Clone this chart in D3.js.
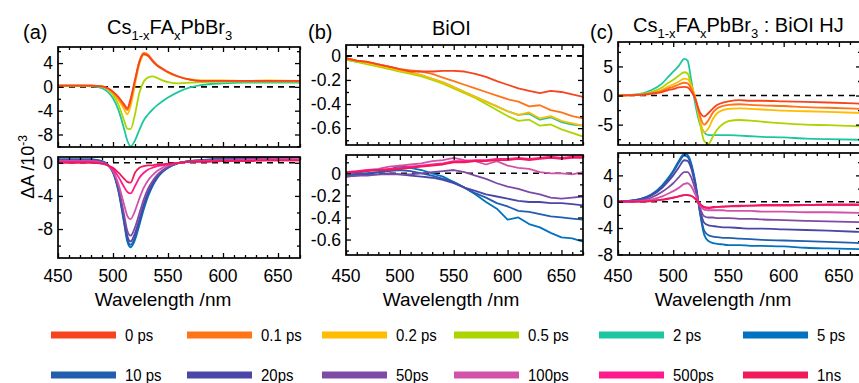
<!DOCTYPE html>
<html>
<head>
<meta charset="utf-8">
<script src="https://cdn.jsdelivr.net/npm/d3@7"></script>
<style>
  html, body { margin: 0; padding: 0; background: #fff; }
  svg { display: block; font-family: "Liberation Sans", Arial, sans-serif; }
</style>
</head>
<body>
<svg id="chart" width="859" height="383"></svg>
<script>
// wavelength grids (nm)
const wlAC = [450, 470, 480, 490, 495, 500, 505, 510, 513, 516, 520, 524, 528, 532, 536, 540, 545, 550, 560, 570, 580, 600, 620, 640, 670];
const wlB = [450, 460, 470, 480, 490, 500, 510, 520, 530, 540, 550, 560, 570, 580, 590, 600, 610, 620, 630, 640, 650, 660, 670];

const xTicks = [450, 500, 550, 600, 650];
const delayLabels = ["0 ps", "0.1 ps", "0.2 ps", "0.5 ps", "2 ps", "5 ps", "10 ps", "20ps", "50ps", "100ps", "500ps", "1ns"];
const delayColors = ["#f8431f", "#ff7417", "#ffbc00", "#acd500", "#1cc79f", "#0072bf", "#215fae", "#4a47a6", "#7d4aa6", "#d152a8", "#ff1b8c", "#ef1a59"];

// (a) Cs1-xFAxPbBr3, early delays (1e-3)
const pero_0ps  = [0.2, 0.2, 0.2, 0.1, -0.2, -0.8, -1.7, -2.9, -3.6, -2.0, 1.2, 4.2, 5.5, 5.2, 4.3, 3.6, 3.0, 2.5, 1.7, 1.2, 1.0, 1.0, 1.0, 1.0, 1.0];
const pero_01ps = [0.2, 0.2, 0.2, 0.1, -0.2, -0.9, -1.9, -3.2, -3.9, -2.4, 1.0, 4.3, 5.7, 5.4, 4.5, 3.7, 3.1, 2.5, 1.7, 1.2, 1.0, 1.0, 1.0, 1.0, 1.0];
const pero_02ps = [0.2, 0.2, 0.2, 0.1, -0.3, -1.0, -2.2, -3.7, -4.6, -3.2, 0.4, 3.8, 5.4, 5.2, 4.4, 3.6, 3.0, 2.4, 1.7, 1.3, 1.1, 1.1, 1.0, 1.1, 1.0];
const pero_05ps = [0.2, 0.2, 0.2, 0.0, -0.4, -1.3, -3.0, -5.6, -7.0, -7.1, -4.6, -1.0, 0.9, 1.6, 1.75, 1.5, 1.1, 0.8, 0.6, 0.7, 0.8, 0.9, 0.9, 0.9, 0.9];
const pero_2ps  = [0.2, 0.2, 0.1, -0.2, -0.8, -1.9, -3.9, -7.0, -9.0, -10.0, -9.0, -7.2, -5.6, -4.6, -3.8, -3.1, -2.4, -1.8, -0.8, -0.1, 0.3, 0.6, 0.7, 0.7, 0.7];
// (a) late delays
const pero_5ps   = [0.4, 0.4, 0.4, 0.2, -0.2, -1.2, -3.5, -7.2, -9.5, -10.2, -9.3, -7.5, -5.6, -4.0, -2.8, -1.9, -1.1, -0.6, 0.0, 0.2, 0.3, 0.5, 0.6, 0.7, 0.8];
const pero_10ps  = [0.4, 0.4, 0.4, 0.2, -0.2, -1.1, -3.3, -7.0, -9.2, -9.9, -9.0, -7.2, -5.3, -3.8, -2.7, -1.8, -1.1, -0.6, 0.0, 0.2, 0.3, 0.5, 0.6, 0.7, 0.8];
const pero_20ps  = [0.3, 0.3, 0.3, 0.1, -0.2, -1.1, -3.2, -6.7, -8.8, -9.5, -8.5, -6.8, -5.0, -3.5, -2.5, -1.7, -1.0, -0.5, 0.0, 0.2, 0.3, 0.4, 0.5, 0.6, 0.7];
const pero_50ps  = [0.3, 0.3, 0.3, 0.1, -0.2, -1.0, -3.0, -6.2, -8.2, -8.8, -7.8, -6.1, -4.4, -3.1, -2.2, -1.5, -0.9, -0.5, 0.0, 0.2, 0.3, 0.4, 0.5, 0.6, 0.6];
const pero_100ps = [0.2, 0.2, 0.2, 0.0, -0.3, -1.0, -2.6, -5.0, -6.4, -6.8, -5.8, -4.3, -3.0, -2.1, -1.5, -1.0, -0.6, -0.3, 0.0, 0.1, 0.2, 0.3, 0.3, 0.4, 0.4];
const pero_500ps = [0.1, 0.1, 0.1, -0.1, -0.3, -0.8, -1.7, -2.9, -3.5, -3.7, -2.8, -1.8, -1.2, -0.8, -0.6, -0.4, -0.3, -0.2, 0.0, 0.1, 0.2, 0.2, 0.3, 0.3, 0.3];
const pero_1ns   = [0.0, 0.0, 0.0, -0.1, -0.3, -0.6, -1.2, -1.9, -2.3, -2.4, -1.2, -0.6, -0.4, -0.3, -0.3, -0.2, -0.2, -0.1, 0.0, 0.1, 0.1, 0.2, 0.2, 0.3, 0.3];

// (b) BiOI, early delays
const bioi_0ps  = [-0.02, -0.04, -0.05, -0.07, -0.09, -0.11, -0.13, -0.13, -0.13, -0.125, -0.125, -0.13, -0.15, -0.175, -0.21, -0.24, -0.27, -0.29, -0.31, -0.29, -0.30, -0.32, -0.34];
const bioi_01ps = [-0.02, -0.04, -0.05, -0.07, -0.09, -0.11, -0.12, -0.13, -0.15, -0.18, -0.21, -0.24, -0.27, -0.30, -0.33, -0.36, -0.38, -0.42, -0.41, -0.45, -0.47, -0.50, -0.52];
const bioi_02ps = [-0.02, -0.04, -0.06, -0.08, -0.10, -0.12, -0.14, -0.16, -0.19, -0.22, -0.26, -0.30, -0.34, -0.38, -0.42, -0.46, -0.49, -0.47, -0.52, -0.50, -0.54, -0.56, -0.58];
const bioi_05ps = [-0.03, -0.05, -0.07, -0.09, -0.11, -0.13, -0.15, -0.17, -0.20, -0.23, -0.27, -0.31, -0.35, -0.40, -0.45, -0.50, -0.54, -0.53, -0.58, -0.57, -0.61, -0.64, -0.67];
const bioi_2ps  = [-0.03, -0.05, -0.06, -0.08, -0.10, -0.12, -0.14, -0.16, -0.19, -0.22, -0.26, -0.30, -0.34, -0.38, -0.42, -0.46, -0.49, -0.48, -0.53, -0.51, -0.55, -0.57, -0.58];
// (b) late delays
const bioi_5ps   = [-0.02, -0.01, 0.0, 0.01, 0.03, 0.07, 0.05, 0.03, 0.0, -0.03, -0.08, -0.13, -0.19, -0.26, -0.32, -0.42, -0.40, -0.46, -0.49, -0.54, -0.58, -0.59, -0.62];
const bioi_10ps  = [0.0, 0.0, 0.0, 0.01, 0.02, 0.03, 0.02, 0.0, -0.02, -0.05, -0.08, -0.13, -0.18, -0.22, -0.27, -0.30, -0.34, -0.35, -0.37, -0.39, -0.40, -0.41, -0.42];
const bioi_20ps  = [-0.03, -0.02, -0.01, -0.01, 0.0, -0.01, -0.02, -0.03, -0.04, -0.06, -0.09, -0.13, -0.16, -0.19, -0.21, -0.23, -0.25, -0.26, -0.26, -0.27, -0.27, -0.28, -0.29];
const bioi_50ps  = [-0.03, -0.02, -0.02, -0.01, -0.01, -0.01, -0.01, 0.0, 0.01, 0.02, 0.03, 0.01, -0.02, -0.05, -0.09, -0.12, -0.14, -0.17, -0.19, -0.22, -0.23, -0.22, -0.21];
const bioi_100ps = [0.0, 0.01, 0.03, 0.04, 0.06, 0.07, 0.08, 0.09, 0.11, 0.12, 0.14, 0.12, 0.11, 0.08, 0.11, 0.07, 0.05, 0.04, 0.01, 0.0, 0.0, -0.01, 0.01];
const bioi_500ps = [0.01, 0.02, 0.03, 0.03, 0.04, 0.05, 0.06, 0.07, 0.08, 0.09, 0.11, 0.11, 0.12, 0.12, 0.13, 0.13, 0.14, 0.13, 0.14, 0.15, 0.14, 0.15, 0.15];
const bioi_1ns   = [0.01, 0.01, 0.02, 0.03, 0.03, 0.04, 0.05, 0.06, 0.07, 0.08, 0.10, 0.10, 0.11, 0.11, 0.12, 0.12, 0.13, 0.12, 0.13, 0.14, 0.13, 0.14, 0.14];

// (c) heterojunction, early delays
const hj_0ps  = [0.0, 0.1, 0.3, 0.6, 0.9, 1.1, 1.4, 1.5, 1.4, 0.8, -0.6, -2.8, -3.6, -3.0, -2.2, -1.6, -1.2, -1.0, -0.8, -0.9, -0.9, -1.0, -1.1, -1.2, -1.4];
const hj_01ps = [0.0, 0.1, 0.4, 0.8, 1.2, 1.5, 1.9, 2.2, 2.1, 1.3, -0.5, -3.4, -5.0, -4.2, -2.9, -2.2, -1.8, -1.6, -1.5, -1.6, -1.7, -1.8, -2.0, -2.1, -2.3];
const hj_02ps = [0.0, 0.1, 0.4, 1.0, 1.5, 1.9, 2.4, 2.9, 2.8, 1.9, -0.4, -4.0, -6.3, -5.6, -4.0, -3.0, -2.5, -2.3, -2.2, -2.3, -2.4, -2.6, -2.7, -2.8, -3.0];
const hj_05ps = [0.0, 0.2, 0.6, 1.4, 2.1, 2.7, 3.4, 4.0, 3.8, 2.0, -0.5, -4.5, -7.8, -8.3, -7.0, -5.8, -4.9, -4.4, -4.2, -4.3, -4.5, -4.8, -5.0, -5.1, -5.3];
const hj_2ps  = [0.0, 0.3, 0.9, 2.1, 3.1, 4.1, 5.1, 6.3, 6.0, 3.0, -1.5, -4.8, -6.3, -6.8, -6.8, -6.8, -6.8, -6.8, -6.9, -7.0, -7.1, -7.2, -7.4, -7.5, -7.6];
// (c) late delays
const hj_5ps   = [0.0, 0.4, 1.1, 2.5, 3.5, 4.7, 6.2, 7.3, 7.1, 6.0, 3.0, -1.5, -5.0, -6.0, -6.3, -6.4, -6.5, -6.6, -6.6, -6.7, -6.7, -6.8, -7.0, -7.1, -7.2];
const hj_10ps  = [0.0, 0.4, 1.0, 2.3, 3.3, 4.5, 5.9, 7.0, 6.8, 5.7, 2.8, -1.3, -4.4, -5.1, -5.3, -5.4, -5.5, -5.5, -5.6, -5.7, -5.8, -5.9, -6.0, -6.1, -6.3];
const hj_20ps  = [0.0, 0.3, 0.9, 2.1, 3.0, 4.0, 5.2, 6.3, 6.2, 5.2, 2.5, -1.0, -3.2, -3.6, -3.7, -3.8, -3.9, -3.9, -4.0, -4.1, -4.1, -4.2, -4.3, -4.4, -4.6];
const hj_50ps  = [0.0, 0.2, 0.6, 1.5, 2.1, 2.8, 3.7, 4.5, 4.5, 3.8, 1.8, -0.8, -2.2, -2.4, -2.4, -2.5, -2.5, -2.5, -2.6, -2.6, -2.7, -2.8, -2.9, -3.0, -3.1];
const hj_100ps = [0.0, 0.1, 0.3, 0.8, 1.2, 1.6, 2.1, 2.7, 2.8, 2.4, 1.1, -0.5, -1.2, -1.3, -1.3, -1.3, -1.3, -1.4, -1.4, -1.4, -1.5, -1.5, -1.6, -1.6, -1.7];
const hj_500ps = [0.0, 0.0, 0.1, 0.3, 0.5, 0.6, 0.8, 1.0, 1.0, 0.9, 0.4, -0.4, -0.9, -1.0, -0.9, -0.8, -0.8, -0.7, -0.7, -0.6, -0.6, -0.6, -0.5, -0.5, -0.5];
const hj_1ns   = [0.0, 0.0, 0.1, 0.3, 0.4, 0.6, 0.8, 1.0, 1.0, 0.9, 0.5, -0.3, -0.8, -0.9, -0.8, -0.8, -0.7, -0.7, -0.6, -0.6, -0.5, -0.5, -0.5, -0.4, -0.4];

const svg = d3.select("#chart");
const black = "#000";

// indices into delayLabels/delayColors
const early = [0, 1, 2, 3, 4];
const late = [5, 6, 7, 8, 9, 10, 11];

const panels = [
  // (a) top / bottom
  { x0: 58, x1: 300, y0: 47, y1: 147, yDomain: [-10.1, 6.7], wl: wlAC, curve: d3.curveMonotoneX,
    major: [4, 0, -4, -8], minor: [6, 2, -2, -6, -10],
    idx: early, data: [pero_0ps, pero_01ps, pero_02ps, pero_05ps, pero_2ps] },
  { x0: 58, x1: 300, y0: 157, y1: 258, yDomain: [-11.5, 0.7], wl: wlAC, curve: d3.curveMonotoneX, xLabels: true,
    major: [0, -4, -8], minor: [-2, -6, -10],
    idx: late, data: [pero_5ps, pero_10ps, pero_20ps, pero_50ps, pero_100ps, pero_500ps, pero_1ns] },
  // (b)
  { x0: 346, x1: 583, y0: 45, y1: 145, yDomain: [-0.74, 0.09], wl: wlB, curve: d3.curveLinear,
    major: [0, -0.2, -0.4, -0.6], minor: [-0.1, -0.3, -0.5, -0.7],
    idx: early, data: [bioi_0ps, bioi_01ps, bioi_02ps, bioi_05ps, bioi_2ps] },
  { x0: 346, x1: 583, y0: 155, y1: 255, yDomain: [-0.74, 0.166], wl: wlB, curve: d3.curveLinear, xLabels: true,
    major: [0, -0.2, -0.4, -0.6], minor: [0.1, -0.1, -0.3, -0.5, -0.7],
    idx: late, data: [bioi_5ps, bioi_10ps, bioi_20ps, bioi_50ps, bioi_100ps, bioi_500ps, bioi_1ns] },
  // (c)
  { x0: 618, x1: 861, y0: 42, y1: 145, yDomain: [-8.5, 9.2], wl: wlAC, curve: d3.curveMonotoneX,
    major: [5, 0, -5], minor: [7.5, 2.5, -2.5, -7.5],
    idx: early, data: [hj_0ps, hj_01ps, hj_02ps, hj_05ps, hj_2ps] },
  { x0: 618, x1: 861, y0: 153, y1: 255, yDomain: [-8.1, 7.4], wl: wlAC, curve: d3.curveMonotoneX, xLabels: true,
    major: [4, 0, -4, -8], minor: [6, 2, -2, -6],
    idx: late, data: [hj_5ps, hj_10ps, hj_20ps, hj_50ps, hj_100ps, hj_500ps, hj_1ns] }
];

panels.forEach((p, n) => {
  const x = d3.scaleLinear().domain([450, 670]).range([p.x0, p.x1]);
  const y = d3.scaleLinear().domain(p.yDomain).range([p.y1, p.y0]);
  const g = svg.append("g");

  const clipId = "clip" + n;
  svg.append("clipPath").attr("id", clipId)
    .append("rect")
    .attr("x", p.x0).attr("y", p.y0)
    .attr("width", p.x1 - p.x0).attr("height", p.y1 - p.y0);

  // zero reference
  g.append("line")
    .attr("x1", p.x0).attr("x2", p.x1)
    .attr("y1", y(0)).attr("y2", y(0))
    .attr("stroke", black).attr("stroke-width", 1.6)
    .attr("stroke-dasharray", "6,5");

  const line = d3.line()
    .x((d, i) => x(p.wl[i]))
    .y(d => y(d))
    .curve(p.curve);

  // early panels: draw the latest delay first so 0 ps ends on top
  let series = p.idx.map((k, j) => ({ k: k, values: p.data[j] }));
  if (p.idx === early) series = series.reverse();

  g.append("g").attr("clip-path", "url(#" + clipId + ")")
    .selectAll("path")
    .data(series)
    .join("path")
    .attr("d", d => line(d.values))
    .attr("fill", "none")
    .attr("stroke", d => delayColors[d.k])
    .attr("stroke-width", 1.8)
    .attr("stroke-linejoin", "round");

  // ticks, all pointing inwards
  const minorX = d3.range(450, 671, 10).filter(v => v % 50 !== 0);
  const addAxis = (axis, tx, ty) => {
    const a = g.append("g").attr("transform", `translate(${tx},${ty})`).call(axis);
    a.select(".domain").remove();
    a.selectAll("line").attr("stroke", black).attr("stroke-width", 1.3);
  };
  addAxis(d3.axisBottom(x).tickValues(xTicks).tickSize(-5).tickFormat(""), 0, p.y1);
  addAxis(d3.axisBottom(x).tickValues(minorX).tickSize(-3).tickFormat(""), 0, p.y1);
  addAxis(d3.axisTop(x).tickValues(xTicks).tickSize(-5).tickFormat(""), 0, p.y0);
  addAxis(d3.axisTop(x).tickValues(minorX).tickSize(-3).tickFormat(""), 0, p.y0);
  addAxis(d3.axisLeft(y).tickValues(p.major).tickSize(-5).tickFormat(""), p.x0, 0);
  addAxis(d3.axisLeft(y).tickValues(p.minor).tickSize(-3).tickFormat(""), p.x0, 0);
  addAxis(d3.axisRight(y).tickValues(p.major).tickSize(-5).tickFormat(""), p.x1, 0);
  addAxis(d3.axisRight(y).tickValues(p.minor).tickSize(-3).tickFormat(""), p.x1, 0);

  // frame
  g.append("rect")
    .attr("x", p.x0).attr("y", p.y0)
    .attr("width", p.x1 - p.x0).attr("height", p.y1 - p.y0)
    .attr("fill", "none").attr("stroke", black).attr("stroke-width", 1.7);

  // y tick labels
  g.selectAll("text.yl")
    .data(p.major)
    .join("text")
    .attr("class", "yl")
    .attr("x", p.x0 - 5)
    .attr("y", d => y(d))
    .attr("dy", "0.36em")
    .attr("text-anchor", "end")
    .attr("font-size", 17.5)
    .text(d => String(d));

  if (p.xLabels) {
    g.selectAll("text.xl")
      .data(xTicks)
      .join("text")
      .attr("class", "xl")
      .attr("x", d => x(d))
      .attr("y", 282)
      .attr("text-anchor", "middle")
      .attr("font-size", 17.5)
      .text(d => String(d));
    g.append("text")
      .attr("x", p.x0 + 105)
      .attr("y", 306)
      .attr("text-anchor", "middle")
      .attr("font-size", 19)
      .text("Wavelength /nm");
  }
});

// panel letters and titles
const letters = [["(a)", 23], ["(b)", 308], ["(c)", 590]];
letters.forEach(([t, lx]) => {
  svg.append("text").attr("x", lx).attr("y", 39).attr("font-size", 20).text(t);
});

function perovskiteTitle(tx, ty, tail) {
  const t = svg.append("text").attr("x", tx).attr("y", ty).attr("font-size", 20);
  t.append("tspan").text("Cs");
  t.append("tspan").attr("font-size", 13).attr("dy", 6).text("1-x");
  t.append("tspan").attr("dy", -6).text("FA");
  t.append("tspan").attr("font-size", 13).attr("dy", 6).text("x");
  t.append("tspan").attr("dy", -6).text("PbBr");
  t.append("tspan").attr("font-size", 13).attr("dy", 6).text("3");
  if (tail) t.append("tspan").attr("dy", -6).text(tail);
}
perovskiteTitle(107, 34, null);
svg.append("text").attr("x", 432).attr("y", 35).attr("font-size", 20).text("BiOI");
perovskiteTitle(633, 32, " : BiOI HJ");

// y axis title
const yt = svg.append("text")
  .attr("transform", "translate(34,167) rotate(-90)")
  .attr("text-anchor", "middle")
  .attr("font-size", 18);
yt.append("tspan").text("\u0394A /10");
yt.append("tspan").attr("font-size", 12).attr("dy", -7).text("-3");

// legend
const legendX = [51, 187, 322, 454, 599, 743];
const legendY = [335, 375];
delayLabels.forEach((lab, i) => {
  const lx = legendX[i % 6];
  const ly = legendY[Math.floor(i / 6)];
  svg.append("line")
    .attr("x1", lx).attr("x2", lx + 65)
    .attr("y1", ly).attr("y2", ly)
    .attr("stroke", delayColors[i]).attr("stroke-width", 7);
  svg.append("text")
    .attr("transform", `translate(${lx + 74},${ly + 6}) scale(0.88,1)`)
    .attr("font-size", 17)
    .text(lab);
});
</script>
</body>
</html>
